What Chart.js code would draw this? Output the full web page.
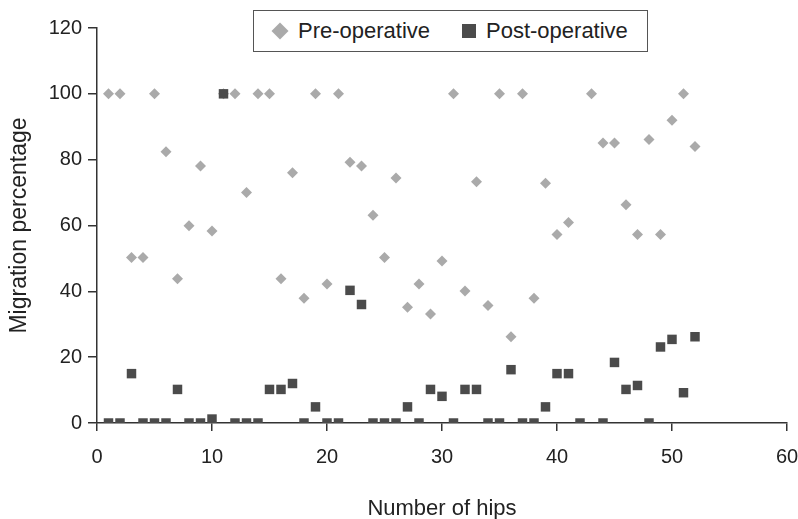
<!DOCTYPE html>
<html>
<head>
<meta charset="utf-8">
<script src="https://cdn.jsdelivr.net/npm/chart.js@4/dist/chart.umd.min.js"></script>
<style>
  body { margin: 0; background: #fff; }
  #wrap { position: relative; width: 798px; height: 519px; }
  #legend {
    position: absolute; left: 253px; top: 10px; width: 393px; height: 40px;
    border: 1px solid #555; background: #fff;
    font-family: "Liberation Sans", Arial, sans-serif; font-size: 22px; color: #222;
  }
  #legend .mk { position: absolute; }
  #legend .lb { position: absolute; top: 7px; white-space: nowrap; }
</style>
</head>
<body>
<div id="wrap">
  <canvas id="chart" width="798" height="519"></canvas>
  <div id="legend"></div>
</div>
<script>
// hip number (x) for every pair of readings
const hips = [1, 2, 3, 4, 5, 6, 7, 8, 9, 10, 11, 12, 13, 14, 15, 16, 17, 18, 19, 20, 21, 22, 23, 24, 25, 26,
              27, 28, 29, 30, 31, 32, 33, 34, 35, 36, 37, 38, 39, 40, 41, 42, 43, 44, 45, 46, 47, 48, 49, 50, 51, 52];

// migration percentage before the operation
const preOp = [100, 100, 50.3, 50.3, 100, 82.4, 43.8, 59.9, 78.1, 58.3, 100, 100, 70, 100, 100, 43.8, 76, 37.9, 100, 42.2,
               100, 79.2, 78.1, 63.1, 50.3, 74.4, 35.2, 42.2, 33.1, 49.2, 100, 40.1, 73.3, 35.7, 100, 26.2, 100, 37.9,
               72.8, 57.3, 60.9, null, 100, 85.1, 85.1, 66.3, 57.3, 86.1, 57.3, 92, 100, 84];

// migration percentage after the operation
const postOp = [0, 0, 15, 0, 0, 0, 10.2, 0, 0, 1.2, 100, 0, 0, 0, 10.2, 10.2, 12, 0, 4.9, 0,
                0, 40.3, 36, 0, 0, 0, 4.9, 0, 10.2, 8.1, 0, 10.2, 10.2, 0, 0, 16.2, 0, 0,
                4.9, 15, 15, 0, null, 0, 18.4, 10.2, 11.4, 0, 23.1, 25.4, 9.2, 26.2];

const seriesNames = ['Pre-operative', 'Post-operative'];
const xTitle = 'Number of hips';
const yTitle = 'Migration percentage';

const preColor = '#aaaaaa';
const postColor = '#4b4b4b';
const inkColor = '#222222';

function toPoints(values) {
    let pts = [];
    for (let i = 0; i < hips.length; i++) {
        if (values[i] !== null) pts.push({x: hips[i], y: values[i]});
    }
    return pts;
}

const tickFont = {family: '"Liberation Sans", Arial, sans-serif', size: 20};
const titleFont = {family: '"Liberation Sans", Arial, sans-serif', size: 22, lineHeight: 0.9};
const yTitleFont = {family: '"Liberation Sans", Arial, sans-serif', size: 23};

new Chart(document.getElementById('chart'), {
    type: 'scatter',
    data: {
        datasets: [{
            label: seriesNames[0],
            data: toPoints(preOp),
            pointStyle: 'rectRot',
            pointRadius: 5.5,
            pointBorderWidth: 0,
            backgroundColor: preColor,
            borderColor: preColor,
            order: 2
        }, {
            label: seriesNames[1],
            data: toPoints(postOp),
            pointStyle: 'rect',
            pointRadius: 6.7,
            pointBorderWidth: 0,
            backgroundColor: postColor,
            borderColor: postColor,
            order: 1
        }]
    },
    options: {
        responsive: false,
        devicePixelRatio: 1,
        animation: false,
        layout: {padding: {top: 28, right: 11, left: 0, bottom: 0}},
        plugins: {
            legend: {display: false},
            tooltip: {enabled: false}
        },
        scales: {
            x: {
                type: 'linear',
                min: 0, max: 60,
                afterFit: function (scale) {
                    scale.height = 96;
                    scale.paddingLeft = 0;
                    scale.paddingRight = 0;
                },
                ticks: {stepSize: 10, color: inkColor, font: tickFont, padding: 14, maxRotation: 0},
                grid: {drawOnChartArea: false, tickLength: 8, color: '#333', lineWidth: 1.5},
                border: {color: '#333', width: 1.5},
                title: {display: true, text: xTitle, color: inkColor, font: titleFont, padding: {bottom: 0}}
            },
            y: {
                min: 0, max: 120,
                afterFit: function (scale) {
                    scale.width = 97;
                    scale.paddingTop = 0;
                    scale.paddingBottom = 0;
                },
                ticks: {stepSize: 20, color: inkColor, font: tickFont, padding: 6},
                grid: {drawOnChartArea: false, tickLength: 9, color: '#333', lineWidth: 1.5},
                border: {color: '#333', width: 1.5},
                title: {display: true, text: yTitle, color: inkColor, font: yTitleFont, padding: {top: 6}}
            }
        }
    }
});

// boxed legend sitting over the top of the plot
const legend = document.getElementById('legend');
const items = [
    {name: seriesNames[0], color: preColor, shape: 'diamond', mx: 18, tx: 44},
    {name: seriesNames[1], color: postColor, shape: 'square', mx: 208, tx: 232}
];
items.forEach(function (it) {
    let mk = document.createElement('span');
    mk.className = 'mk';
    if (it.shape === 'diamond') {
        mk.style.cssText = 'left:' + (it.mx + 2) + 'px;top:14px;width:12px;height:12px;transform:rotate(45deg);background:' + it.color;
    } else {
        mk.style.cssText = 'left:' + it.mx + 'px;top:13px;width:14px;height:14px;background:' + it.color;
    }
    legend.appendChild(mk);
    let lb = document.createElement('span');
    lb.className = 'lb';
    lb.style.left = it.tx + 'px';
    lb.textContent = it.name;
    legend.appendChild(lb);
});
</script>
</body>
</html>
